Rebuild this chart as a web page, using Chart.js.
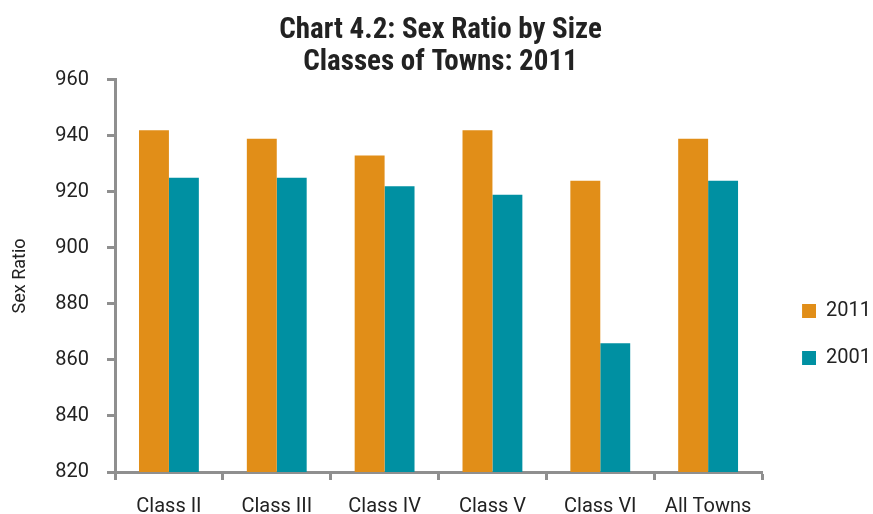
<!DOCTYPE html>
<html>
<head>
<meta charset="utf-8">
<script src="https://cdn.jsdelivr.net/npm/chart.js@4/dist/chart.umd.min.js"></script>
<style>
  html, body { margin: 0; padding: 0; background: #fff; }
  #wrap { width: 873px; height: 514px; }
</style>
</head>
<body>
<div id="wrap"><canvas id="sexRatioChart" width="873" height="514"></canvas></div>
<script>
// Chart data
const categories = ['Class II', 'Class III', 'Class IV', 'Class V', 'Class VI', 'All Towns'];
const ratio2011 = [942, 939, 933, 942, 924, 939];
const ratio2001 = [925, 925, 922, 919, 866, 924];
const yTicks = [820, 840, 860, 880, 900, 920, 940, 960];

const axisGray = '#8f8f8f';
const textColor = '#222';
const colors = ['#e18e18', '#0090a2'];

// Legend swatch: square drawn on the right side of a wider transparent canvas,
// so the legend squares sit further right of the plot like in the original
function makeSwatch(color) {
    const c = document.createElement('canvas');
    c.width = 27;
    c.height = 14;
    const g = c.getContext('2d');
    g.fillStyle = color;
    g.fillRect(13, 0, 14, 14);
    return c;
}
const swatches = colors.map(makeSwatch);

const ctx = document.getElementById('sexRatioChart').getContext('2d');
const sexRatioChart = new Chart(ctx, {
    type: 'bar',
    data: {
        labels: categories,
        datasets: [{
            label: '2011',
            data: ratio2011,
            backgroundColor: colors[0],
            categoryPercentage: 0.555,
            barPercentage: 1
        }, {
            label: '2001',
            data: ratio2001,
            backgroundColor: colors[1],
            categoryPercentage: 0.555,
            barPercentage: 1
        }]
    },
    options: {
        responsive: false,
        animation: false,
        layout: { padding: { left: 0, right: -8, top: 0, bottom: 0 } },
        plugins: {
            title: {
                display: true,
                text: ['Chart 4.2: Sex Ratio by Size', 'Classes of Towns: 2011'],
                color: '#222',
                font: { family: '"Liberation Sans Narrow", "Roboto Condensed", Roboto, sans-serif', size: 29, weight: 'bold', lineHeight: 1.1 },
                padding: { top: 15, bottom: 1 }
            },
            legend: {
                position: 'right',
                title: {
                    display: true,
                    text: ' ',
                    font: { size: 10, lineHeight: 1.2 },
                    padding: { top: 142, bottom: 0 }
                },
                labels: {
                    usePointStyle: true,
                    pointStyleWidth: 27,
                    padding: 27,
                    color: textColor,
                    font: { family: 'Roboto', size: 20 },
                    generateLabels: chart => {
                        const items = Chart.defaults.plugins.legend.labels.generateLabels(chart);
                        items.forEach((item, i) => { item.pointStyle = swatches[i]; });
                        return items;
                    }
                }
            },
            tooltip: { enabled: false }
        },
        scales: {
            x: {
                grid: {
                    offset: true,
                    drawOnChartArea: false,
                    tickLength: 8,
                    tickWidth: 3,
                    color: axisGray
                },
                border: { color: axisGray, width: 3 },
                ticks: {
                    color: textColor,
                    font: { family: 'Roboto', size: 20 },
                    padding: 15
                },
                afterFit: scale => { scale.height = 42; }
            },
            y: {
                min: 820,
                max: 960,
                afterBuildTicks: scale => { scale.ticks = yTicks.map(v => ({ value: v })); },
                grid: {
                    drawOnChartArea: false,
                    tickLength: 8,
                    tickWidth: 3,
                    color: axisGray
                },
                border: { color: axisGray, width: 3 },
                ticks: {
                    color: textColor,
                    font: { family: 'Roboto', size: 20 },
                    padding: 18
                },
                title: {
                    display: true,
                    text: 'Sex Ratio',
                    color: textColor,
                    font: { family: 'Roboto', size: 18 },
                    padding: { top: 10, bottom: 4 }
                },
                afterFit: scale => { scale.width = 115; }
            }
        }
    }
});
</script>
</body>
</html>
